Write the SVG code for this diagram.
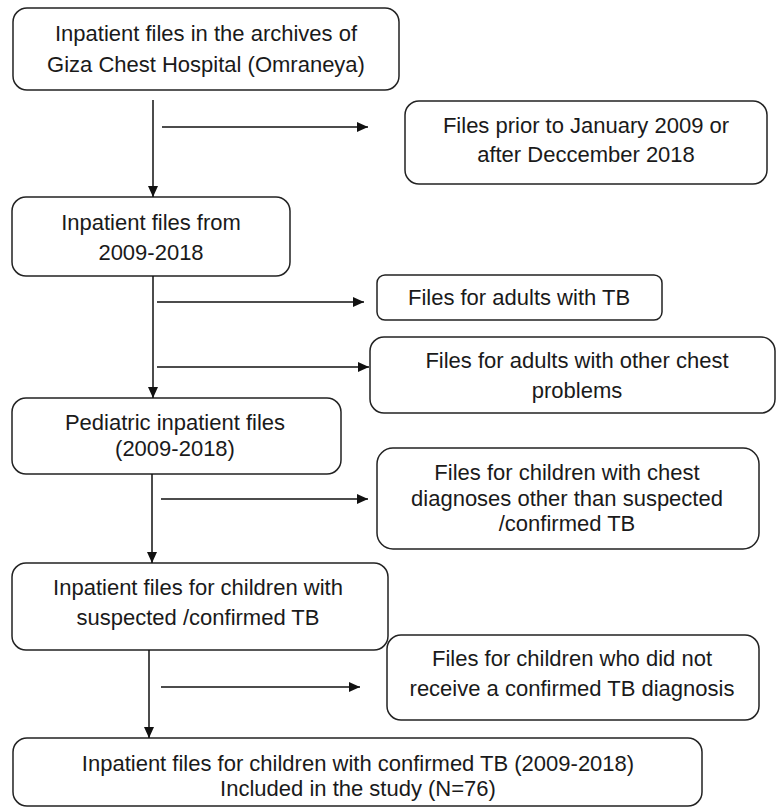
<svg xmlns="http://www.w3.org/2000/svg" width="777" height="810" viewBox="0 0 777 810">
<defs>
<style>
.box{fill:#fff;stroke:#222;stroke-width:1.5}
.t{font-family:"Liberation Sans",Arial,sans-serif;font-size:22px;fill:#1a1a1a;text-anchor:middle}
.c{stroke:#111;stroke-width:1.5;fill:none}
</style>
<marker id="ah" markerWidth="11" markerHeight="10" refX="11" refY="5" orient="auto" markerUnits="userSpaceOnUse">
<path d="M0,0 L11,5 L0,10 Z" fill="#111"/>
</marker>
</defs>
<rect width="777" height="810" fill="#fff"/>
<g id="n1"><rect class="box" x="13" y="8" width="386" height="82" rx="14"/>
<text class="t" x="206" y="41">Inpatient files in the archives of</text>
<text class="t" x="206" y="72">Giza Chest Hospital (Omraneya)</text></g>
<g id="n2"><rect class="box" x="405" y="101" width="362" height="83" rx="14"/>
<text class="t" x="586" y="133">Files prior to January 2009 or</text>
<text class="t" x="586" y="162">after Deccember 2018</text></g>
<g id="n3"><rect class="box" x="12" y="197" width="278" height="79" rx="14"/>
<text class="t" x="151" y="230">Inpatient files from</text>
<text class="t" x="151" y="260">2009-2018</text></g>
<g id="n4"><rect class="box" x="377" y="275" width="285" height="45" rx="8"/>
<text class="t" x="519" y="305">Files for adults with TB</text></g>
<g id="n5"><rect class="box" x="370" y="337" width="405" height="76" rx="14"/>
<text class="t" x="577" y="368">Files for adults with other chest</text>
<text class="t" x="577" y="398">problems</text></g>
<g id="n6"><rect class="box" x="12" y="398" width="329" height="76" rx="14"/>
<text class="t" x="175" y="430">Pediatric inpatient files</text>
<text class="t" x="175" y="456">(2009-2018)</text></g>
<g id="n7"><rect class="box" x="377" y="448" width="382" height="101" rx="16"/>
<text class="t" x="567" y="480">Files for children with chest</text>
<text class="t" x="567" y="506">diagnoses other than suspected</text>
<text class="t" x="567" y="531">/confirmed TB</text></g>
<g id="n8"><rect class="box" x="12" y="563" width="376" height="87" rx="14"/>
<text class="t" x="198" y="595">Inpatient files for children with</text>
<text class="t" x="198" y="625">suspected /confirmed TB</text></g>
<g id="n9"><rect class="box" x="387" y="635" width="372" height="85" rx="14"/>
<text class="t" x="572" y="666">Files for children who did not</text>
<text class="t" x="572" y="696">receive a confirmed TB diagnosis</text></g>
<g id="n10"><rect class="box" x="13" y="738" width="689" height="68" rx="14"/>
<text class="t" x="358" y="771">Inpatient files for children with confirmed TB (2009-2018)</text>
<text class="t" x="358" y="796">Included in the study (N=76)</text></g>
<g id="connectors">
<line class="c" x1="153" y1="100" x2="153" y2="197" marker-end="url(#ah)"/>
<line class="c" x1="162" y1="127" x2="368" y2="127" marker-end="url(#ah)"/>
<line class="c" x1="153" y1="276" x2="153" y2="398" marker-end="url(#ah)"/>
<line class="c" x1="157" y1="302" x2="364" y2="302" marker-end="url(#ah)"/>
<line class="c" x1="157" y1="367" x2="369" y2="367" marker-end="url(#ah)"/>
<line class="c" x1="152" y1="474" x2="152" y2="563" marker-end="url(#ah)"/>
<line class="c" x1="161" y1="499" x2="368" y2="499" marker-end="url(#ah)"/>
<line class="c" x1="149" y1="650" x2="149" y2="738" marker-end="url(#ah)"/>
<line class="c" x1="161" y1="687" x2="360" y2="687" marker-end="url(#ah)"/>
</g>
</svg>
